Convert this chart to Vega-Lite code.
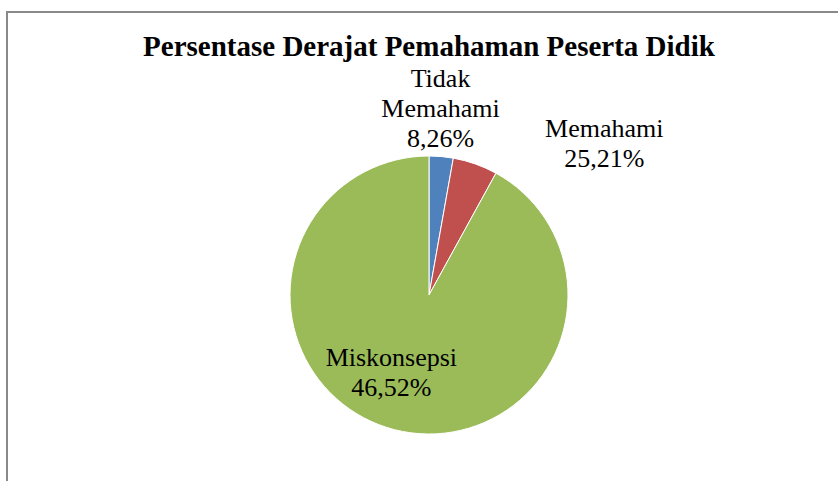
{
  "$schema": "https://vega.github.io/schema/vega-lite/v6.json",
  "autosize": {"type": "none"},
  "padding": {"left": 7, "top": 12, "right": 0, "bottom": 0},
  "width": 844,
  "height": 566,
  "background": "white",
  "view": {"stroke": "#898989", "strokeWidth": 2, "fill": null},
  "config": {
    "text": {"font": "Liberation Serif", "fontSize": 26, "lineBreak": "\n", "lineHeight": 30, "color": "black", "baseline": "middle", "align": "center"}
  },
  "title": {
    "text": "Persentase Derajat Pemahaman Peserta Didik",
    "font": "Liberation Serif",
    "fontSize": 29,
    "fontWeight": "bold",
    "color": "black",
    "anchor": "middle",
    "frame": "group",
    "baseline": "alphabetic",
    "offset": -73
  },
  "data": {
    "values": [
      {"kategori": "Tidak Memahami", "nilai": 2.8, "urutan": 1, "label": "Tidak\nMemahami\n8,26%"},
      {"kategori": "Memahami", "nilai": 5.2, "urutan": 2, "label": "Memahami\n25,21%"},
      {"kategori": "Miskonsepsi", "nilai": 92.0, "urutan": 3, "label": "Miskonsepsi\n46,52%"}
    ]
  },
  "encoding": {
    "theta": {"field": "nilai", "type": "quantitative", "stack": true},
    "order": {"field": "urutan", "type": "quantitative"}
  },
  "layer": [
    {
      "mark": {"type": "arc", "outerRadius": 139, "stroke": "white", "strokeWidth": 1},
      "encoding": {
        "color": {
          "field": "kategori",
          "type": "nominal",
          "scale": {"domain": ["Tidak Memahami", "Memahami", "Miskonsepsi"], "range": ["#4F81BD", "#C0504D", "#9BBB59"]},
          "legend": null
        }
      }
    },
    {
      "mark": {"type": "text", "radius": 188, "dx": -5, "dy": -29},
      "encoding": {
        "text": {"condition": {"test": "datum.kategori === 'Tidak Memahami'", "field": "label"}, "value": ""}
      }
    },
    {
      "mark": {"type": "text", "radius": 160, "dx": 122, "dy": -15},
      "encoding": {
        "text": {"condition": {"test": "datum.kategori === 'Memahami'", "field": "label"}, "value": ""}
      }
    },
    {
      "mark": {"type": "text", "radius": 87, "dx": -16, "dy": -21},
      "encoding": {
        "text": {"condition": {"test": "datum.kategori === 'Miskonsepsi'", "field": "label"}, "value": ""}
      }
    }
  ]
}
